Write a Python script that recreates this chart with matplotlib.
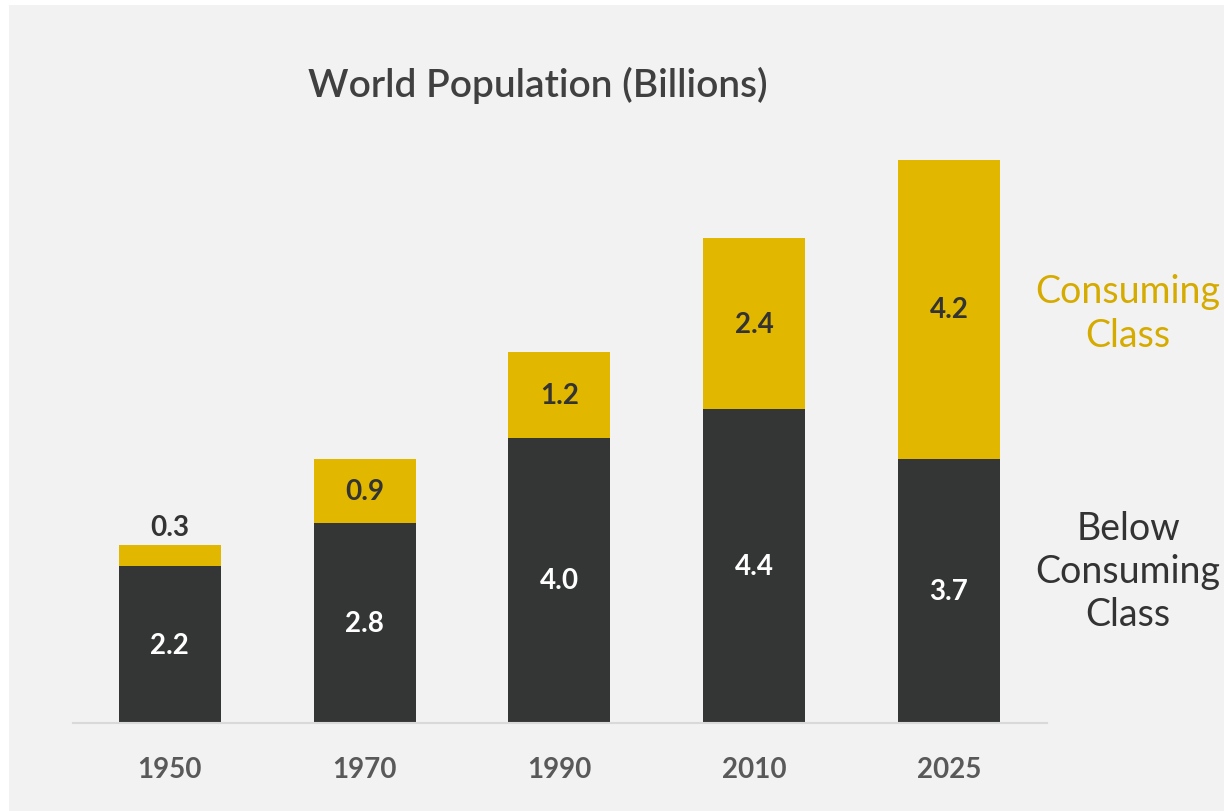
import matplotlib.pyplot as plt
from matplotlib.patches import Rectangle

years = ["1950", "1970", "1990", "2010", "2025"]
below = [2.2, 2.8, 4.0, 4.4, 3.7]
consuming = [0.3, 0.9, 1.2, 2.4, 4.2]

DARK = "#343635"
GOLD = "#e2b700"
GOLD_TEXT = "#d6ab00"
BG = "#f2f2f2"

plt.rcParams["font.family"] = ["Lato", "DejaVu Sans"]

fig = plt.figure(figsize=(12.24, 8.12), dpi=100)
fig.patch.set_facecolor("white")
fig.patches.append(Rectangle((9 / 1224, 0), 1 - 9 / 1224, 1 - 6 / 812,
                             transform=fig.transFigure, facecolor=BG,
                             edgecolor="none", zorder=-10))

ax = fig.add_axes([73 / 1224, 88 / 812, 974 / 1224, 620 / 812])
ax.set_facecolor("none")
x = list(range(len(years)))
w = 0.523
ax.bar(x, below, w, color=DARK, zorder=2)
ax.bar(x, consuming, w, bottom=below, color=GOLD, zorder=2)
ax.set_xlim(-0.497, 4.503)
ax.set_ylim(0, 620 / 71.3)

for i in x:
    ax.text(i, below[i] / 2, f"{below[i]:.1f}", ha="center", va="center",
            color="white", fontsize=20, fontweight="bold")
    if consuming[i] < 0.5:
        ax.text(i, below[i] + consuming[i] + 0.07, f"{consuming[i]:.1f}",
                ha="center", va="bottom", color="#333333", fontsize=20,
                fontweight="bold")
    else:
        ax.text(i, below[i] + consuming[i] / 2, f"{consuming[i]:.1f}",
                ha="center", va="center", color="#333333", fontsize=20,
                fontweight="bold")

for s in ["top", "right", "left"]:
    ax.spines[s].set_visible(False)
ax.spines["bottom"].set_color("#d9d9d9")
ax.spines["bottom"].set_linewidth(1.5)
ax.set_yticks([])
ax.set_xticks(x)
ax.set_xticklabels(years, fontsize=20, fontweight="bold", color="#595959")
ax.tick_params(axis="x", length=0, pad=24)

fig.text(538 / 1224, 1 - 85 / 812, "World Population (Billions)",
         ha="center", va="center", fontsize=28, fontweight="semibold",
         color="#404040")
fig.text(1128 / 1224, 1 - 314 / 812, "Consuming\nClass", ha="center",
         va="center", fontsize=27, color=GOLD_TEXT, linespacing=1.25)
fig.text(1128 / 1224, 1 - 572 / 812, "Below\nConsuming\nClass", ha="center",
         va="center", fontsize=27, color="#333333", linespacing=1.25)

fig.savefig("out.png", dpi=100)
